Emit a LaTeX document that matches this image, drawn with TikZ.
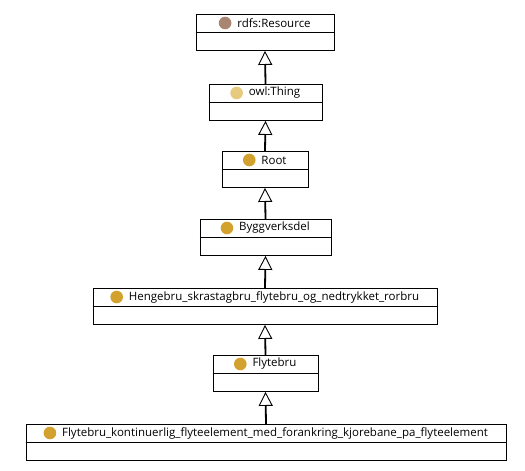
\documentclass[tikz,border=0pt]{standalone}
\usepackage{fontspec}
\setmainfont{Open Sans}
\usetikzlibrary{arrows.meta}
\definecolor{resdot}{HTML}{A88672}
\definecolor{thingdot}{HTML}{E6CB7E}
\definecolor{clsdot}{HTML}{D2A12E}
\tikzset{
  cls/.style={draw, line width=0.9pt, minimum height=36pt, inner sep=0pt, fill=white},
  title/.style={font=\fontsize{11.5}{13}\selectfont, inner sep=0pt, anchor=center},
  gen/.style={line width=1.8pt, -{Triangle[open, width=14pt, length=14pt, line width=0.9pt, fill=white]}},
}
% one class box: name, centre x, top y, width, dot colour, title
\newcommand{\classbox}[6]{%
  \node[cls, minimum width=#4pt, anchor=north] (#1) at (#2,#3) {};
  \draw[line width=0.9pt] (#1.west) -- (#1.east);
  \node[title] (#1-t) at ([xshift=9pt, yshift=-9pt]#1.north) {#6};
  \fill[#5] ([xshift=-12pt]#1-t.west) circle (6.3pt);
}
\begin{document}
\begin{tikzpicture}[x=1pt, y=-1pt]
\useasboundingbox[fill=white] (0,0) rectangle (525,471);
\classbox{res}{265}{14}{138}{resdot}{rdfs:Resource}
\classbox{thing}{265.5}{84}{113}{thingdot}{owl:Thing}
\classbox{root}{265}{151}{86}{clsdot}{Root}
\classbox{bygg}{265.5}{219}{131}{clsdot}{Byggverksdel}
\classbox{henge}{265}{288}{344}{clsdot}{Hengebru\_skrastagbru\_flytebru\_og\_nedtrykket\_rorbru}
\classbox{flyte}{265.5}{355}{105}{clsdot}{Flytebru}
\classbox{kont}{266}{424}{480}{clsdot}{Flytebru\_kontinuerlig\_flyteelement\_med\_forankring\_kjorebane\_pa\_flyteelement}
\draw[gen] (thing.north) -- (res.south);
\draw[gen] (root.north) -- (thing.south);
\draw[gen] (bygg.north) -- (root.south);
\draw[gen] (henge.north) -- (bygg.south);
\draw[gen] (flyte.north) -- (henge.south);
\draw[gen] (kont.north) -- (flyte.south);
\end{tikzpicture}
\end{document}
